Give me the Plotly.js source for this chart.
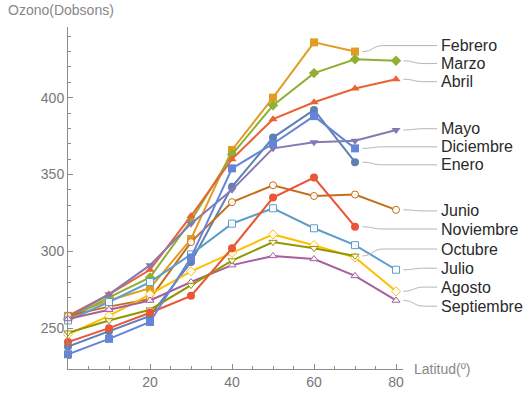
<!DOCTYPE html>
<html>
<head>
<meta charset="utf-8">
<script src="https://cdn.plot.ly/plotly-3.0.1.min.js"></script>
<style>html,body{margin:0;padding:0;background:#fff;}#chart{width:529px;height:396px;}</style>
</head>
<body>
<div id="chart"></div>
<script>
// Data (latitude in degrees, ozone in Dobson units)
const latitudes = [0, 10, 20, 30, 40, 50, 60, 70, 80];
const monthNames = ["Enero","Febrero","Marzo","Abril","Mayo","Junio","Julio","Agosto","Septiembre","Octubre","Noviembre","Diciembre"];
const enero      = [238, 248, 258, 293, 342, 374, 392, 358];
const febrero    = [258, 268, 276, 308, 366, 400, 436, 430];
const marzo      = [256, 270, 283, 320, 363, 395, 416, 425, 424];
const abril      = [258, 272, 288, 323, 360, 386, 397, 406, 412];
const mayo       = [257, 272, 291, 318, 340, 367, 371, 372, 379];
const junio      = [258, 264, 269, 306, 332, 343, 336, 337, 327];
const julio      = [255, 267, 280, 298, 318, 328, 315, 304, 288];
const agosto     = [246, 258, 272, 287, 299, 311, 304, 296, 274];
const septiembre = [256, 262, 268, 280, 291, 297, 295, 284, 268];
const octubre    = [247, 255, 262, 278, 294, 306, 302, 297];
const noviembre  = [241, 250, 260, 271, 302, 335, 348, 316];
const diciembre  = [233, 243, 254, 296, 354, 370, 388, 367];
const seriesValues = [enero, febrero, marzo, abril, mayo, junio, julio, agosto, septiembre, octubre, noviembre, diciembre];

// Styling
const colors = ["#5E81B5","#E19C24","#8FB032","#EB6235","#8778B3","#C56E1A","#5D9EC7","#FFBF00","#A5609D","#929600","#E95536","#6685D9"];
const symbols = ["circle","square","diamond","triangle-up","triangle-down","circle","square","diamond","triangle-up","triangle-down","circle","square"];
const openMarker = [false,false,false,false,false,true,true,true,true,true,false,false];
// label vertical positions (in Dobsons) for the right-hand labels
const labelPos = {Febrero:433.9, Marzo:422.2, Abril:410.4, Mayo:379.8, Diciembre:368, Enero:356.3,
                  Junio:326.3, Noviembre:314.5, Octubre:301.5, Julio:289, Agosto:276.7, Septiembre:264.3};

const xr = [0, 81.7];
const yr = [223.4, 446];
const labelX = 90.6;
const lineEndX = 90.0;

const traces = seriesValues.map((vals, i) => ({
  type: "scatter",
  mode: "lines+markers",
  name: monthNames[i],
  x: latitudes.slice(0, vals.length),
  y: vals,
  cliponaxis: false,
  line: {color: colors[i], width: 2},
  marker: {
    symbol: symbols[i],
    size: openMarker[i] ? 7 : 8,
    color: openMarker[i] ? "rgba(255,255,255,0.9)" : colors[i],
    line: {color: colors[i], width: openMarker[i] ? 1 : 0}
  },
  showlegend: false,
  hoverinfo: "skip"
}));

const px = x => (x - xr[0]) / (xr[1] - xr[0]);
const py = y => (y - yr[0]) / (yr[1] - yr[0]);

const shapes = [];
const annotations = [];
seriesValues.forEach((vals, i) => {
  const name = monthNames[i];
  const xe = latitudes[vals.length - 1];
  const ye = vals[vals.length - 1];
  const yl = labelPos[name];
  const x0 = xe + 1.8;
  const xm = x0 + 5;
  const path = `M ${px(x0)} ${py(ye)} C ${px(x0 + 2.5)} ${py(ye)}, ${px(x0 + 2.5)} ${py(yl)}, ${px(xm)} ${py(yl)} L ${px(lineEndX)} ${py(yl)}`;
  shapes.push({type: "path", xref: "paper", yref: "paper", path: path, line: {color: "#b5b5b5", width: 1}});
  annotations.push({
    xref: "paper", yref: "paper", x: px(labelX), y: py(yl), text: name, showarrow: false,
    xanchor: "left", yanchor: "middle",
    font: {family: "Liberation Sans, Arial, sans-serif", size: 16, color: "#2a2a2a"}
  });
});

annotations.push({
  xref: "paper", yref: "paper", x: -0.185, y: 1.0, yshift: 17, text: "Ozono(Dobsons)", showarrow: false,
  xanchor: "left", yanchor: "middle",
  font: {family: "Liberation Sans, Arial, sans-serif", size: 14, color: "#888"}
});
annotations.push({
  xref: "paper", yref: "paper", x: 1.0, xshift: 9, y: 0, text: "Latitud(º)", showarrow: false,
  xanchor: "left", yanchor: "middle",
  font: {family: "Liberation Sans, Arial, sans-serif", size: 14, color: "#888"}
});

const layout = {
  width: 529, height: 396,
  margin: {l: 68, r: 126, t: 27, b: 27, pad: 0},
  paper_bgcolor: "#ffffff", plot_bgcolor: "#ffffff",
  font: {family: "Liberation Sans, Arial, sans-serif", size: 14, color: "#666"},
  xaxis: {
    range: xr, showgrid: false, zeroline: false,
    showline: true, linecolor: "#8c8c8c", linewidth: 1,
    ticks: "inside", ticklen: 5, tickcolor: "#8c8c8c",
    tickvals: [20, 40, 60, 80], ticktext: ["20","40","60","80"],
    minor: {ticks: "inside", ticklen: 3, tickcolor: "#8c8c8c", tick0: 0, dtick: 5},
    tickfont: {size: 14, color: "#777"},
    fixedrange: true
  },
  yaxis: {
    range: yr, showgrid: false, zeroline: false,
    showline: true, linecolor: "#8c8c8c", linewidth: 1,
    ticks: "inside", ticklen: 5, tickcolor: "#8c8c8c",
    tickvals: [250, 300, 350, 400], ticktext: ["250","300","350","400"],
    minor: {ticks: "inside", ticklen: 3, tickcolor: "#8c8c8c", tick0: 0, dtick: 10},
    tickfont: {size: 14, color: "#777"},
    fixedrange: true
  },
  shapes: shapes,
  annotations: annotations
};

Plotly.newPlot("chart", traces, layout, {staticPlot: true, displayModeBar: false});
</script>
</body>
</html>
